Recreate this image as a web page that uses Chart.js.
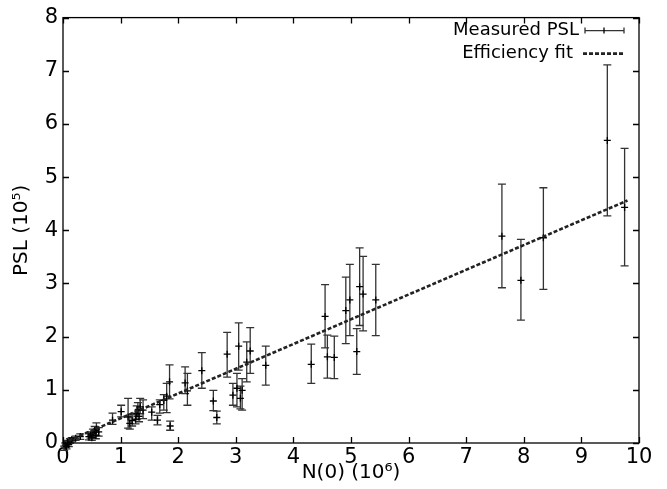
<!DOCTYPE html>
<html>
<head>
<meta charset="utf-8">
<title>PSL vs N(0)</title>
<script src="https://cdn.jsdelivr.net/npm/chart.js@4.4.1/dist/chart.umd.min.js"></script>
<style>
  html, body { margin: 0; padding: 0; background: #fff; }
  #box { width: 667px; height: 489px; }
</style>
</head>
<body>
<div id="box"><canvas id="myChart"></canvas></div>
<script>
// MEASURED POINTS: N(0) IN 10^6, PSL IN 10^5, WITH LOW / HIGH ERROR ENDS
const nValues = [0.02, 0.04, 0.06, 0.08, 0.10, 0.12, 0.15, 0.22, 0.30,
  0.45, 0.48, 0.50, 0.52, 0.55, 0.57, 0.58, 0.62, 0.86, 1.01, 1.13, 1.16, 1.20,
  1.26, 1.28, 1.30, 1.32, 1.34, 1.39, 1.54, 1.64, 1.68, 1.75, 1.80, 1.85, 1.86,
  2.12, 2.16, 2.41, 2.61, 2.67, 2.85, 2.95, 3.02, 3.05, 3.08, 3.11, 3.19, 3.25,
  3.52, 4.31, 4.55, 4.59, 4.71, 4.91, 4.98, 5.10, 5.15, 5.21, 5.43,
  7.62, 7.95, 8.34, 9.45, 9.75];
const pslValues = [-0.10, -0.04, -0.07, 0.01, -0.03, 0.04, 0.06, 0.09, 0.12,
  0.12, 0.15, 0.10, 0.19, 0.23, 0.14, 0.26, 0.21, 0.43, 0.59, 0.49, 0.37, 0.42,
  0.45, 0.55, 0.62, 0.50, 0.68, 0.62, 0.58, 0.43, 0.72, 0.80, 0.88, 1.15, 0.32,
  1.13, 0.98, 1.36, 0.79, 0.48, 1.67, 0.90, 1.03, 1.82, 0.84, 0.99, 1.52, 1.73,
  1.46, 1.48, 2.38, 1.62, 1.61, 2.49, 2.69, 1.72, 2.94, 2.80, 2.69,
  3.89, 3.06, 3.86, 5.69, 4.43];
const pslLow = [-0.14, -0.08, -0.11, -0.03, -0.07, 0.00, 0.02, 0.05, 0.07,
  0.06, 0.09, 0.05, 0.12, 0.15, 0.08, 0.14, 0.13, 0.35, 0.49, 0.28, 0.26, 0.32,
  0.36, 0.44, 0.50, 0.40, 0.55, 0.46, 0.43, 0.34, 0.56, 0.62, 0.57, 0.83, 0.24,
  0.93, 0.71, 1.03, 0.61, 0.36, 1.24, 0.71, 0.68, 1.37, 0.64, 0.62, 1.15, 1.31,
  1.09, 1.12, 1.79, 1.22, 1.21, 1.87, 2.02, 1.29, 2.21, 2.11, 2.02,
  2.92, 2.31, 2.89, 4.27, 3.33];
const pslHigh = [-0.06, 0.00, -0.03, 0.05, 0.01, 0.08, 0.10, 0.13, 0.17,
  0.18, 0.21, 0.16, 0.26, 0.31, 0.20, 0.38, 0.29, 0.56, 0.71, 0.84, 0.49, 0.53,
  0.56, 0.70, 0.76, 0.63, 0.84, 0.81, 0.68, 0.52, 0.81, 0.91, 1.12, 1.47, 0.41,
  1.43, 1.31, 1.70, 0.99, 0.60, 2.08, 1.12, 1.31, 2.26, 1.07, 1.21, 1.90, 2.17,
  1.82, 1.86, 2.98, 2.03, 2.01, 3.12, 3.36, 2.15, 3.67, 3.51, 3.36,
  4.87, 3.83, 4.80, 7.11, 5.54];

// EFFICIENCY FIT (STRAIGHT LINE THROUGH ORIGIN)
const fitN = [0, 9.8];
const fitPSL = [0, 4.56];

// TICK LABELS
const xTicks = [0, 1, 2, 3, 4, 5, 6, 7, 8, 9, 10];
const yTicks = [0, 1, 2, 3, 4, 5, 6, 7, 8];

Chart.defaults.font.family = "'DejaVu Sans', sans-serif";
Chart.defaults.color = '#000';

const measured = nValues.map((n, i) => ({ x: n, y: pslValues[i] }));
const fit = fitN.map((n, i) => ({ x: n, y: fitPSL[i] }));

// ERROR BARS, DRAWN WITH THE CHART SCALES
const errorBars = {
  id: 'errorBars',
  beforeDatasetsDraw(chart) {
    const { ctx, scales: { x, y } } = chart;
    ctx.save();
    ctx.strokeStyle = '#333';
    ctx.lineWidth = 1.3;
    nValues.forEach((n, i) => {
      const px = x.getPixelForValue(n);
      const lo = y.getPixelForValue(pslLow[i]);
      const hi = y.getPixelForValue(pslHigh[i]);
      ctx.beginPath();
      ctx.moveTo(px, lo); ctx.lineTo(px, hi);
      ctx.moveTo(px - 4, lo); ctx.lineTo(px + 4, lo);
      ctx.moveTo(px - 4, hi); ctx.lineTo(px + 4, hi);
      ctx.stroke();
    });
    ctx.restore();
  }
};

// FRAME, INWARD TICKS AND LEGEND
const frame = {
  id: 'frame',
  afterDraw(chart) {
    const { ctx, chartArea: a, scales: { x, y } } = chart;
    ctx.save();
    ctx.strokeStyle = '#000';
    ctx.lineWidth = 1.3;
    ctx.strokeRect(a.left, a.top, a.right - a.left, a.bottom - a.top);
    ctx.beginPath();
    xTicks.forEach(v => {
      const px = Math.round(x.getPixelForValue(v)) + 0.5;
      ctx.moveTo(px, a.bottom); ctx.lineTo(px, a.bottom - 6);
      ctx.moveTo(px, a.top); ctx.lineTo(px, a.top + 6);
    });
    yTicks.forEach(v => {
      const py = Math.round(y.getPixelForValue(v)) + 0.5;
      ctx.moveTo(a.left, py); ctx.lineTo(a.left + 6, py);
      ctx.moveTo(a.right, py); ctx.lineTo(a.right - 6, py);
    });
    ctx.stroke();

    // LEGEND
    ctx.font = "18px 'DejaVu Sans'";
    ctx.fillStyle = '#000';
    ctx.textAlign = 'right';
    ctx.textBaseline = 'middle';
    const tx = a.right - 60;
    const y1 = a.top + 13, y2 = a.top + 36;
    ctx.fillText('Measured PSL', tx, y1);
    ctx.fillText('Efficiency fit', tx - 6, y2);
    ctx.strokeStyle = '#333';
    ctx.lineWidth = 1.3;
    ctx.beginPath();
    ctx.moveTo(tx + 6, y1); ctx.lineTo(tx + 45, y1);
    ctx.moveTo(tx + 6, y1 - 3); ctx.lineTo(tx + 6, y1 + 3);
    ctx.moveTo(tx + 45, y1 - 3); ctx.lineTo(tx + 45, y1 + 3);
    ctx.stroke();
    ctx.strokeStyle = '#000';
    ctx.beginPath();
    ctx.moveTo(tx + 25, y1 - 3); ctx.lineTo(tx + 25, y1 + 3);
    ctx.stroke();
    ctx.strokeStyle = '#222';
    ctx.lineWidth = 2.6;
    ctx.setLineDash([4, 2]);
    ctx.beginPath();
    ctx.moveTo(tx + 4, y2); ctx.lineTo(tx + 44, y2);
    ctx.stroke();
    ctx.restore();
  }
};

new Chart(document.getElementById('myChart'), {
  type: 'scatter',
  data: {
    datasets: [
      {
        label: 'Efficiency fit',
        type: 'line',
        data: fit,
        borderColor: '#222',
        borderWidth: 2.6,
        borderDash: [4, 2],
        pointRadius: 0,
        fill: false
      },
      {
        label: 'Measured PSL',
        data: measured,
        pointStyle: 'cross',
        pointRadius: 3.5,
        borderColor: '#000',
        borderWidth: 1.3,
        clip: false
      }
    ]
  },
  options: {
    responsive: true,
    maintainAspectRatio: false,
    animation: false,
    layout: { padding: { top: 16, right: 28, left: 0, bottom: 0 } },
    plugins: { legend: { display: false }, tooltip: { enabled: false } },
    scales: {
      x: {
        type: 'linear', min: 0, max: 10,
        afterFit: s => { s.height = 46; },
        afterBuildTicks: s => { s.ticks = xTicks.map(v => ({ value: v })); },
        grid: { display: false, drawTicks: false },
        border: { display: false },
        ticks: { font: { size: 21 }, padding: 2, maxRotation: 0 },
        title: { display: true, text: 'N(0) (10⁶)', font: { size: 20 }, padding: { top: 0, bottom: 4 } }
      },
      y: {
        type: 'linear', min: 0, max: 8,
        afterFit: s => { s.width = 63; },
        afterBuildTicks: s => { s.ticks = yTicks.map(v => ({ value: v })); },
        grid: { display: false, drawTicks: false },
        border: { display: false },
        ticks: { font: { size: 21 }, padding: 5 },
        title: { display: true, text: 'PSL (10⁵)', font: { size: 20 }, padding: { top: 10, bottom: 0 } }
      }
    }
  },
  plugins: [errorBars, frame]
});
</script>
</body>
</html>
